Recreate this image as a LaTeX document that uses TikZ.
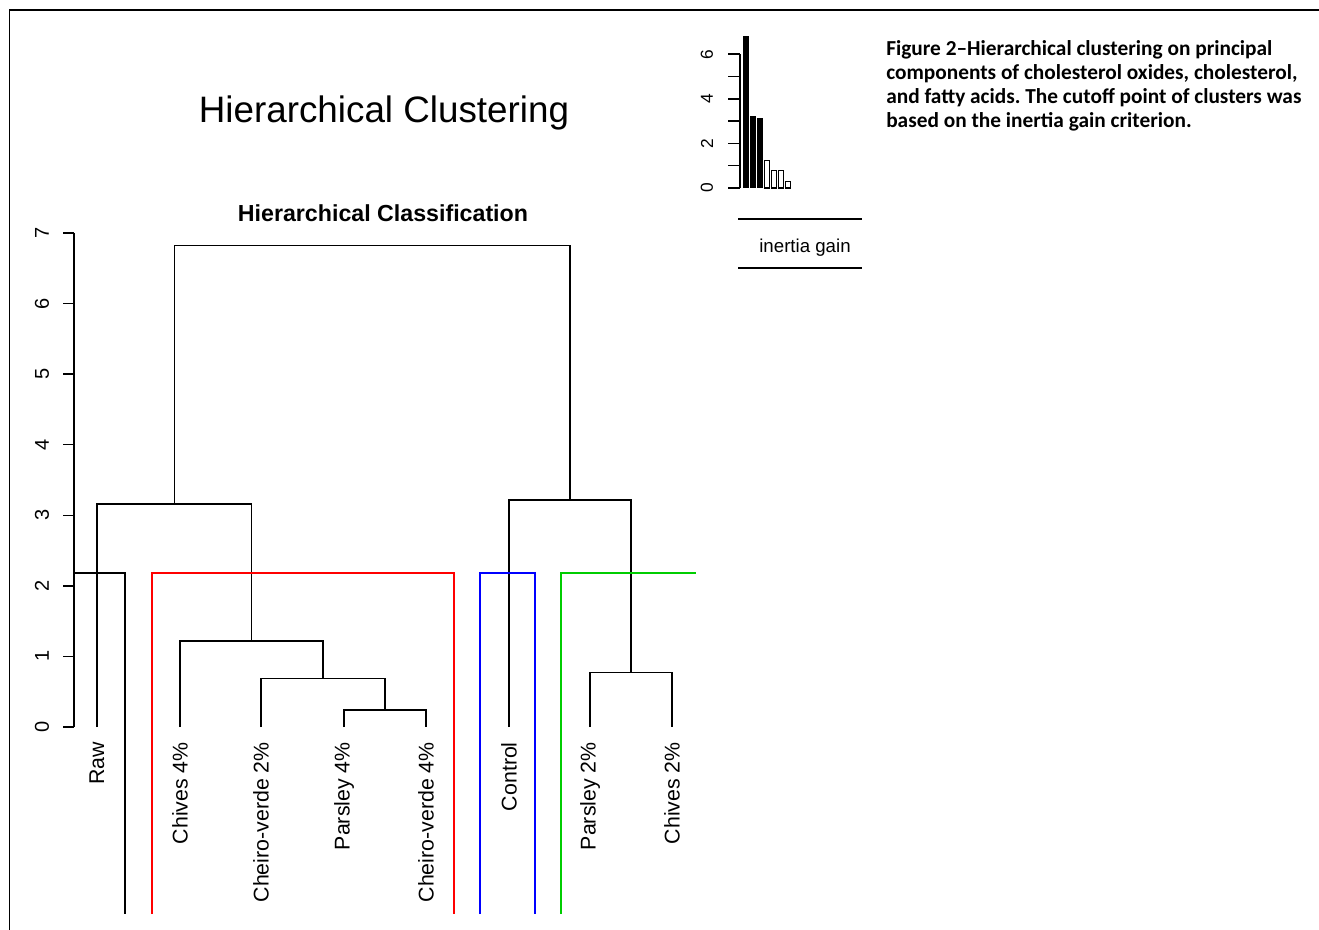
\documentclass[tikz,border=0pt]{standalone}
\usepackage{fontspec}
\setmainfont{Liberation Sans}
\newfontfamily\capfont{Carlito}
\usepackage{xcolor}
\definecolor{CutRed}{HTML}{FF0000}
\definecolor{CutGreen}{HTML}{00CD00}
\definecolor{CutBlue}{HTML}{0000FF}
\usetikzlibrary{calc}

\tikzset{
	branch/.style={line width=1.1pt, black},
	cutline/.style={line width=1pt},
	leaflabel/.style={rotate=90, anchor=east, inner sep=0pt, font=\fontsize{16}{16}\selectfont},
	ticklabel/.style={rotate=90, inner sep=0pt, font=\fontsize{15}{15}\selectfont},
	gainlabel/.style={rotate=90, inner sep=0pt, font=\fontsize{13}{13}\selectfont}
}

% one merge of the tree: child a, child b, merge point m
\newcommand{\treejoin}[3]{\draw[branch] (#1) -- (#1 |- #3) -- (#2 |- #3) -- (#2);}

\begin{document}
\frenchspacing
\begin{tikzpicture}[x=0.75pt,y=-0.75pt]
		\def\yzero{727}   % height 0 of the tree
		\def\unit{70.57}  % px per unit of height
		\def\ycut{573}    % cut level
		\def\ybot{914}    % lower end of the cut boxes
		\def\gzero{188}   % base of the gain bars
		\def\gunit{22.3}
		
		\useasboundingbox (0,0) rectangle (1319,930);
		\draw[line width=1.3pt] (9.5,930) -- (9.5,10) -- (1319,10);
		
		\node[font=\fontsize{27.6}{28}\selectfont] (title) at (384,113) {Hierarchical Clustering};
		\node[font=\bfseries\fontsize{17.4}{18}\selectfont] (subtitle) at (383,213) {Hierarchical Classification};
		
		% axis
		\draw[branch] (74,233) -- (74,\yzero);
		\foreach \k in {0,...,7}{
			\draw[branch] (63,{\yzero-\k*\unit}) -- (74,{\yzero-\k*\unit});
			\node[ticklabel] (tick\k) at (42,{\yzero-\k*\unit}) {\k};
		}
		
		% leaves
		\foreach \name/\x/\txt in {raw/97/Raw, chv4/180/Chives 4\%, cv2/261/Cheiro-verde 2\%, par4/344/Parsley 4\%, cv4/426/Cheiro-verde 4\%, ctl/509/Control, par2/590/Parsley 2\%, chv2/672/Chives 2\%}{
			\coordinate (\name) at (\x,\yzero);
			\node[leaflabel] (\name-lbl) at (\x,742) {\txt};
		}
		
		% merges
		\coordinate (m1) at (385,{\yzero-0.24*\unit});
		\coordinate (m2) at (323,{\yzero-0.69*\unit});
		\coordinate (m3) at (251.5,{\yzero-1.22*\unit});
		\coordinate (m4) at (174.5,{\yzero-3.16*\unit});
		\coordinate (m5) at (631,{\yzero-0.77*\unit});
		\coordinate (m6) at (570,{\yzero-3.22*\unit});
		\coordinate (m7) at (372,{\yzero-6.82*\unit});
		
		\treejoin{par4}{cv4}{m1}
		\treejoin{cv2}{m1}{m2}
		\treejoin{chv4}{m2}{m3}
		\treejoin{raw}{m3}{m4}
		\treejoin{par2}{chv2}{m5}
		\treejoin{ctl}{m5}{m6}
		\treejoin{m4}{m6}{m7}
		
		% cut boxes
		\draw[branch] (74,\ycut) -- (125,\ycut) -- (125,\ybot);
		\draw[cutline,CutRed] (152,\ybot) -- (152,\ycut) -- (454,\ycut) -- (454,\ybot);
		\draw[cutline,CutBlue] (480,\ybot) -- (480,\ycut) -- (535,\ycut) -- (535,\ybot);
		\draw[cutline,CutGreen] (561,\ybot) -- (561,\ycut) -- (696,\ycut);
		
		% inertia gain
		\draw[branch] (740,\gzero) -- (740,{\gzero-6*\gunit});
		\foreach \k in {0,...,6}{
			\draw[branch] (728,{\gzero-\k*\gunit}) -- (740,{\gzero-\k*\gunit});
		}
		\foreach \k in {0,2,4,6}{
			\node[gainlabel] (gtick\k) at (707,{\gzero-\k*\gunit}) {\k};
		}
		\foreach \i/\g in {0/6.82,1/3.22,2/3.16}{
			\fill[black] ({743+7*\i},\gzero) rectangle ++(6,{-\g*\gunit});
		}
		\foreach \i/\g in {3/1.22,4/0.8,5/0.8,6/0.28}{
			\draw[line width=0.8pt,fill=white] ({743.5+7*\i},\gzero) rectangle ++(5,{-\g*\gunit});
		}
		\draw[branch] (738,219) -- (862,219);
		\draw[branch] (738,268) -- (862,268);
		\node[font=\fontsize{14}{14}\selectfont] (gain) at (805,247.5) {inertia gain};
		
		\node[anchor=north west, align=left, inner sep=0pt, font=\capfont\bfseries\fontsize{16}{18}\selectfont] (caption) at (886,40)
		{Figure 2–Hierarchical clustering on principal\\components of cholesterol oxides, cholesterol,\\and fatty acids. The cutoff point of clusters was\\based on the inertia gain criterion.};
	\end{tikzpicture}
\end{document}
